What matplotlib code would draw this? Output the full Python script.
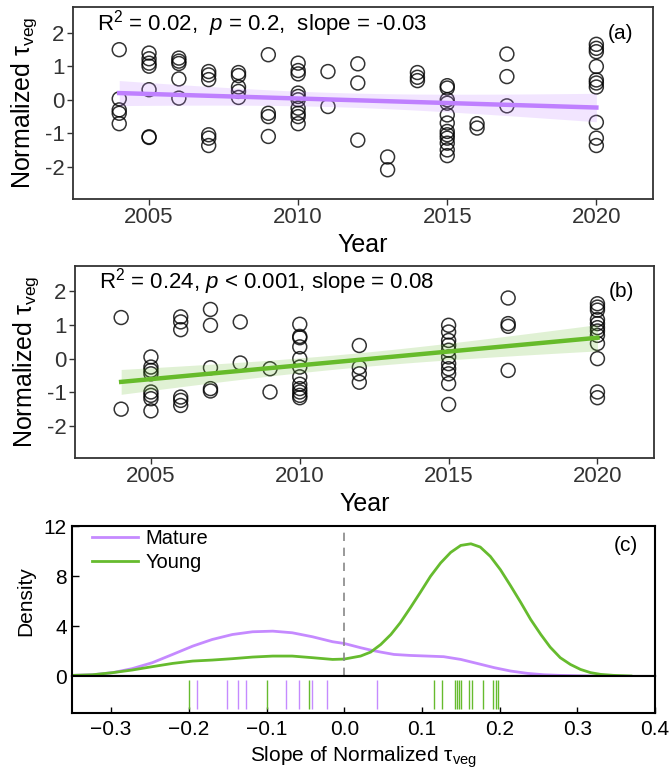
import matplotlib
matplotlib.use("Agg")
import matplotlib.pyplot as plt
import numpy as np

plt.rcParams['font.family'] = ['Liberation Sans', 'DejaVu Sans']
plt.rcParams['mathtext.fontset'] = 'custom'
plt.rcParams['mathtext.rm'] = 'Liberation Sans'
plt.rcParams['mathtext.it'] = 'Liberation Sans:italic'
plt.rcParams['mathtext.bf'] = 'Liberation Sans:bold'
plt.rcParams['axes.unicode_minus'] = False

# ── panel (a): mature stands, normalized tau_veg by year ──
mature_years = ([2004] * 5 + [2005] * 7 + [2006] * 5 + [2007] * 6 + [2008] * 5 + [2009] * 4
                + [2010] * 10 + [2011] * 2 + [2012] * 3 + [2013] * 2 + [2014] * 3
                + [2015] * 12 + [2016] * 2 + [2017] * 3 + [2020] * 10)
mature_tau = [1.49, 0.03, -0.30, -0.40, -0.71,
              1.39, 1.22, 1.09, 1.00, 0.30, -1.10, -1.12,
              1.24, 1.15, 1.08, 0.62, 0.05,
              0.84, 0.74, 0.60, -1.04, -1.14, -1.36,
              0.81, 0.72, 0.38, 0.25, 0.07,
              1.34, -0.40, -0.50, -1.09,
              1.09, 0.87, 0.77, 0.20, 0.10, 0.00, -0.25, -0.40, -0.50, -0.71,
              0.84, -0.20,
              1.07, 0.50, -1.20,
              -1.70, -2.08,
              0.81, 0.67, 0.57,
              0.42, 0.35, 0.00, -0.10, -0.45, -0.69, -0.94, -1.04, -1.14, -1.29, -1.49, -1.66,
              -0.71, -0.84,
              1.36, 0.69, -0.18,
              1.65, 1.53, 1.43, 0.99, 0.59, 0.50, 0.38, -0.67, -1.14, -1.36]
# fitted line as drawn in the figure (value at first / last year)
mature_fit_ends = [0.20, -0.23]

# ── panel (b): young stands ──
young_years = ([2004] * 2 + [2005] * 8 + [2006] * 6 + [2007] * 5 + [2008] * 2 + [2009] * 2
               + [2010] * 12 + [2012] * 4 + [2015] * 11 + [2017] * 4 + [2020] * 12)
young_tau = [1.22, -1.50,
             0.05, -0.25, -0.35, -0.45, -0.99, -1.09, -1.19, -1.55,
             1.24, 1.09, 0.86, -1.14, -1.24, -1.39,
             1.46, 0.99, -0.27, -0.89, -0.96,
             1.09, -0.13,
             -0.30, -0.99,
             1.02, 0.66, 0.62, 0.35, 0.00, -0.25, -0.54, -0.76, -0.89, -0.99, -1.09, -1.16,
             0.39, -0.26, -0.45, -0.70,
             0.99, 0.79, 0.54, 0.40, 0.25, 0.05, -0.15, -0.30, -0.45, -0.74, -1.36,
             1.80, 1.04, 0.96, -0.35,
             1.63, 1.53, 1.44, 1.16, 1.04, 0.92, 0.82, 0.69, 0.45, 0.00, -0.99, -1.16]
young_fit_ends = [-0.69, 0.62]

# ── panel (c): slope densities and rug ──
mature_kx = [-0.350, -0.324, -0.298, -0.273, -0.247, -0.221, -0.195, -0.170, -0.144, -0.118,
             -0.092, -0.067, -0.041, -0.015, 0.000, 0.021, 0.034, 0.047, 0.064, 0.085,
             0.107, 0.128, 0.150, 0.171, 0.193, 0.214, 0.236, 0.257, 0.278, 0.300, 0.321]
mature_kd = [0.05, 0.10, 0.27, 0.59, 1.07, 1.73, 2.40, 2.93, 3.33, 3.55,
             3.60, 3.47, 3.15, 2.75, 2.61, 2.27, 2.08, 1.92, 1.73, 1.65,
             1.60, 1.55, 1.33, 1.01, 0.67, 0.40, 0.21, 0.10, 0.05, 0.02, 0.00]
young_kx = [-0.350, -0.324, -0.298, -0.273, -0.247, -0.221, -0.195, -0.170, -0.144, -0.118,
            -0.092, -0.067, -0.041, -0.015, 0.000, 0.021, 0.034, 0.047, 0.060, 0.072,
            0.085, 0.098, 0.111, 0.124, 0.137, 0.150, 0.163, 0.175, 0.188, 0.201,
            0.214, 0.227, 0.240, 0.253, 0.265, 0.278, 0.291, 0.304, 0.317, 0.330, 0.347, 0.369]
young_kd = [0.05, 0.10, 0.27, 0.48, 0.75, 1.01, 1.20, 1.28, 1.39, 1.52,
            1.60, 1.60, 1.47, 1.33, 1.36, 1.60, 1.92, 2.53, 3.33, 4.27,
            5.47, 6.72, 8.00, 9.07, 9.92, 10.48, 10.61, 10.35, 9.60, 8.53,
            7.25, 5.92, 4.53, 3.33, 2.32, 1.47, 0.93, 0.53, 0.27, 0.13, 0.05, 0.00]
mature_slopes = [-0.189, -0.151, -0.137, -0.127, -0.075, -0.058, -0.041, -0.022, 0.042]
young_slopes = [-0.200, -0.100, -0.045, 0.115, 0.126, 0.142, 0.145, 0.148, 0.150,
                0.161, 0.165, 0.179, 0.192, 0.195, 0.198]

year_ticks = [2005, 2010, 2015, 2020]
tau_ticks = [-2, -1, 0, 1, 2]
slope_ticks = [-0.3, -0.2, -0.1, 0.0, 0.1, 0.2, 0.3, 0.4]
slope_ticklabels = ['\u22120.3', '\u22120.2', '\u22120.1', '0.0', '0.1', '0.2', '0.3', '0.4']
dens_ticks = [0, 4, 8, 12]

PURPLE = '#bf80ff'
GREEN = '#66bb2a'


def fit_band(x, y, ends, grid):
    # line through the drawn end values, 95% band from the scatter around it
    x = np.asarray(x, float)
    y = np.asarray(y, float)
    x0, x1 = x.min(), x.max()
    b1 = (ends[1] - ends[0]) / (x1 - x0)
    b0 = ends[0] - b1 * x0
    n = len(x)
    resid = y - (b0 + b1 * x)
    s = np.sqrt(np.sum(resid ** 2) / (n - 2))
    se = s * np.sqrt(1.0 / n + (grid - x.mean()) ** 2 / np.sum((x - x.mean()) ** 2))
    fit = b0 + b1 * grid
    return fit, fit - 1.99 * se, fit + 1.99 * se


def scatter_panel(ax, years, tau, ends, color, note, tag):
    ax.scatter(years, tau, s=100, facecolors='none', edgecolors='black',
               linewidths=1.1, alpha=0.8, zorder=2)
    grid = np.linspace(min(years), max(years), 100)
    fit, lo, hi = fit_band(years, tau, ends, grid)
    ax.fill_between(grid, lo, hi, color=color, alpha=0.2, lw=0, zorder=3)
    ax.plot(grid, fit, color=color, lw=3.2, zorder=4)

    ax.set_xlim(2002.45, 2021.9)
    ax.set_ylim(-2.95, 2.75)
    ax.set_xticks(year_ticks)
    ax.set_xticklabels([str(t) for t in year_ticks])
    ax.set_yticks(tau_ticks)
    ax.set_yticklabels([str(t) for t in tau_ticks])
    ax.tick_params(direction='out', length=4, width=1, color='#333333',
                   labelcolor='#333333', labelsize=16, pad=2)
    for spine in ax.spines.values():
        spine.set_edgecolor('#333333')
        spine.set_linewidth(1.3)
    ax.set_xlabel('Year', fontsize=18, labelpad=3)
    ax.set_ylabel('Normalized \u03c4$_{\\rm veg}$', fontsize=18, labelpad=4)
    ax.text(0.041, 0.917, note, transform=ax.transAxes, fontsize=16, va='center', ha='left')
    ax.text(0.966, 0.865, tag, transform=ax.transAxes, fontsize=15, va='center', ha='right')


fig = plt.figure(figsize=(6.71, 7.78), dpi=100)
ax_a = fig.add_axes([0.1088, 0.7442, 0.8644, 0.2464])
ax_b = fig.add_axes([0.1118, 0.4113, 0.8629, 0.2468])
ax_c = fig.add_axes([0.1078, 0.1311, 0.8684, 0.1922])
ax_r = fig.add_axes([0.1078, 0.0839, 0.8684, 0.0472])

scatter_panel(ax_a, mature_years, mature_tau, mature_fit_ends, PURPLE,
              r'R$^2$ = 0.02,  $\it{p}$ = 0.2,  slope = -0.03', '(a)')
scatter_panel(ax_b, young_years, young_tau, young_fit_ends, GREEN,
              r'R$^2$ = 0.24, $\it{p}$ < 0.001, slope = 0.08', '(b)')

# density panel
ax_c.plot(mature_kx, mature_kd, color='#c58aff', lw=2, label='Mature')
ax_c.plot(young_kx, young_kd, color='#66bb2e', lw=2, label='Young')
ax_c.axvline(0, color='#888888', lw=1.2, ls=(0, (5, 4)))
ax_c.set_xlim(-0.35, 0.40)
ax_c.set_ylim(0, 12)
ax_c.set_yticks(dens_ticks)
ax_c.set_xticks([])
ax_c.tick_params(direction='in', length=5, width=1, labelsize=15, pad=4)
ax_c.set_ylabel('Density', fontsize=15, labelpad=6)
for spine in ax_c.spines.values():
    spine.set_linewidth(1.5)
ax_c.text(0.97, 0.87, '(c)', transform=ax_c.transAxes, fontsize=15, va='center', ha='right')
ax_c.legend(loc='upper left', bbox_to_anchor=(0.034, 0.985), frameon=False, fontsize=14.5,
            handlelength=2.3, handletextpad=0.35, labelspacing=0.25,
            borderaxespad=0, borderpad=0)

# rug panel
ax_r.vlines(mature_slopes, 0.1, 0.9, color='#c58aff', lw=1.0)
ax_r.vlines(young_slopes, 0.1, 0.9, color='#66bb2e', lw=1.0)
ax_r.set_xlim(-0.35, 0.40)
ax_r.set_ylim(0, 1)
ax_r.set_yticks([])
ax_r.set_xticks(slope_ticks)
ax_r.set_xticklabels(slope_ticklabels)
ax_r.tick_params(direction='in', length=4, width=1, labelsize=15, pad=5)
for spine in ax_r.spines.values():
    spine.set_linewidth(1.5)
ax_r.set_xlabel('Slope of Normalized \u03c4$_{\\rm veg}$', fontsize=15, labelpad=4)

fig.savefig('out.png', dpi=100)
